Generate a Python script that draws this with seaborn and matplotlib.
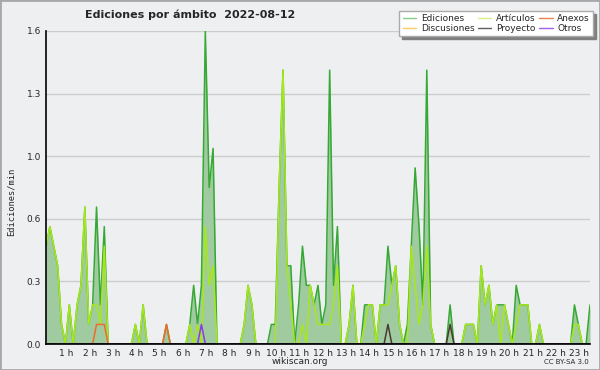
import matplotlib
matplotlib.use("Agg")
import matplotlib.pyplot as plt
import matplotlib.ticker as mticker
import matplotlib.transforms as mtransforms
from matplotlib.lines import Line2D
from matplotlib.patches import Rectangle
import numpy as np
import pandas as pd
import seaborn as sns

""" Data: edits per minute, one value per 10-minute bin (00:00 .. 23:20) """
title = "Ediciones por ámbito  2022-08-12"
bin_minutes = 10

# one row per hour (6 bins)
ediciones = [
    0.5, 0.6, 0.5, 0.4, 0.1, 0.0,
    0.2, 0.0, 0.2, 0.3, 0.7, 0.1,
    0.2, 0.7, 0.2, 0.6, 0.0, 0.0,
    0.0, 0.0, 0.0, 0.0, 0.0, 0.1,
    0.0, 0.2, 0.0, 0.0, 0.0, 0.0,
    0.0, 0.1, 0.0, 0.0, 0.0, 0.0,
    0.0, 0.1, 0.3, 0.1, 0.3, 1.6,
    0.8, 1.0, 0.0, 0.0, 0.0, 0.0,
    0.0, 0.0, 0.0, 0.1, 0.3, 0.2,
    0.0, 0.0, 0.0, 0.0, 0.1, 0.1,
    0.8, 1.4, 0.4, 0.4, 0.0, 0.2,
    0.5, 0.3, 0.3, 0.2, 0.3, 0.1,
    0.2, 1.4, 0.3, 0.6, 0.0, 0.0,
    0.1, 0.3, 0.0, 0.0, 0.2, 0.2,
    0.2, 0.0, 0.2, 0.2, 0.5, 0.3,
    0.4, 0.1, 0.0, 0.1, 0.5, 0.9,
    0.6, 0.2, 1.4, 0.1, 0.0, 0.0,
    0.0, 0.0, 0.2, 0.0, 0.0, 0.0,
    0.1, 0.1, 0.1, 0.0, 0.4, 0.2,
    0.3, 0.1, 0.2, 0.2, 0.2, 0.1,
    0.0, 0.3, 0.2, 0.2, 0.2, 0.0,
    0.0, 0.1, 0.0, 0.0, 0.0, 0.0,
    0.0, 0.0, 0.0, 0.0, 0.2, 0.1,
    0.0, 0.0, 0.2,
]
articulos = [
    0.5, 0.6, 0.5, 0.4, 0.1, 0.0,
    0.2, 0.0, 0.2, 0.3, 0.7, 0.1,
    0.2, 0.2, 0.1, 0.5, 0.0, 0.0,
    0.0, 0.0, 0.0, 0.0, 0.0, 0.1,
    0.0, 0.2, 0.0, 0.0, 0.0, 0.0,
    0.0, 0.0, 0.0, 0.0, 0.0, 0.0,
    0.0, 0.1, 0.0, 0.1, 0.0, 0.6,
    0.3, 0.4, 0.0, 0.0, 0.0, 0.0,
    0.0, 0.0, 0.0, 0.1, 0.3, 0.2,
    0.0, 0.0, 0.0, 0.0, 0.0, 0.0,
    0.8, 1.4, 0.4, 0.2, 0.0, 0.0,
    0.1, 0.0, 0.3, 0.2, 0.1, 0.1,
    0.1, 0.1, 0.2, 0.4, 0.0, 0.0,
    0.1, 0.3, 0.0, 0.0, 0.1, 0.2,
    0.2, 0.0, 0.2, 0.2, 0.2, 0.3,
    0.4, 0.1, 0.0, 0.0, 0.5, 0.3,
    0.1, 0.2, 0.5, 0.1, 0.0, 0.0,
    0.0, 0.0, 0.0, 0.0, 0.0, 0.0,
    0.1, 0.1, 0.1, 0.0, 0.4, 0.2,
    0.3, 0.1, 0.2, 0.0, 0.2, 0.1,
    0.0, 0.1, 0.2, 0.2, 0.2, 0.0,
    0.0, 0.1, 0.0, 0.0, 0.0, 0.0,
    0.0, 0.0, 0.0, 0.0, 0.1, 0.1,
    0.0, 0.0, 0.0,
]
discusiones = [
    0.0, 0.0, 0.0, 0.0, 0.0, 0.0,
    0.0, 0.0, 0.0, 0.0, 0.0, 0.0,
    0.0, 0.0, 0.0, 0.0, 0.0, 0.0,
    0.0, 0.0, 0.0, 0.0, 0.0, 0.0,
    0.0, 0.0, 0.0, 0.0, 0.0, 0.0,
    0.0, 0.0, 0.0, 0.0, 0.0, 0.0,
    0.0, 0.0, 0.0, 0.0, 0.0, 0.0,
    0.0, 0.0, 0.0, 0.0, 0.0, 0.0,
    0.0, 0.0, 0.0, 0.0, 0.0, 0.0,
    0.0, 0.0, 0.0, 0.0, 0.0, 0.0,
    0.0, 0.0, 0.0, 0.0, 0.0, 0.0,
    0.0, 0.0, 0.0, 0.0, 0.0, 0.0,
    0.0, 0.0, 0.0, 0.0, 0.0, 0.0,
    0.0, 0.0, 0.0, 0.0, 0.0, 0.0,
    0.0, 0.0, 0.0, 0.0, 0.0, 0.0,
    0.0, 0.0, 0.0, 0.0, 0.0, 0.0,
    0.0, 0.0, 0.0, 0.0, 0.0, 0.0,
    0.0, 0.0, 0.0, 0.0, 0.0, 0.0,
    0.0, 0.0, 0.0, 0.0, 0.0, 0.0,
    0.0, 0.0, 0.0, 0.0, 0.0, 0.0,
    0.0, 0.0, 0.0, 0.0, 0.0, 0.0,
    0.0, 0.0, 0.0, 0.0, 0.0, 0.0,
    0.0, 0.0, 0.0, 0.0, 0.0, 0.0,
    0.0, 0.0, 0.0,
]
proyecto = [
    0.0, 0.0, 0.0, 0.0, 0.0, 0.0,
    0.0, 0.0, 0.0, 0.0, 0.0, 0.0,
    0.0, 0.0, 0.0, 0.0, 0.0, 0.0,
    0.0, 0.0, 0.0, 0.0, 0.0, 0.0,
    0.0, 0.0, 0.0, 0.0, 0.0, 0.0,
    0.0, 0.0, 0.0, 0.0, 0.0, 0.0,
    0.0, 0.0, 0.0, 0.0, 0.0, 0.0,
    0.0, 0.0, 0.0, 0.0, 0.0, 0.0,
    0.0, 0.0, 0.0, 0.0, 0.0, 0.0,
    0.0, 0.0, 0.0, 0.0, 0.0, 0.0,
    0.0, 0.0, 0.0, 0.0, 0.0, 0.0,
    0.0, 0.0, 0.0, 0.0, 0.0, 0.0,
    0.0, 0.0, 0.0, 0.0, 0.0, 0.0,
    0.0, 0.0, 0.0, 0.0, 0.0, 0.0,
    0.0, 0.0, 0.0, 0.0, 0.1, 0.0,
    0.0, 0.0, 0.0, 0.0, 0.0, 0.0,
    0.0, 0.0, 0.0, 0.0, 0.0, 0.0,
    0.0, 0.0, 0.1, 0.0, 0.0, 0.0,
    0.0, 0.0, 0.0, 0.0, 0.0, 0.0,
    0.0, 0.0, 0.0, 0.0, 0.0, 0.0,
    0.0, 0.0, 0.0, 0.0, 0.0, 0.0,
    0.0, 0.0, 0.0, 0.0, 0.0, 0.0,
    0.0, 0.0, 0.0, 0.0, 0.0, 0.0,
    0.0, 0.0, 0.0,
]
anexos = [
    0.0, 0.0, 0.0, 0.0, 0.0, 0.0,
    0.0, 0.0, 0.0, 0.0, 0.0, 0.0,
    0.0, 0.1, 0.1, 0.1, 0.0, 0.0,
    0.0, 0.0, 0.0, 0.0, 0.0, 0.0,
    0.0, 0.0, 0.0, 0.0, 0.0, 0.0,
    0.0, 0.1, 0.0, 0.0, 0.0, 0.0,
    0.0, 0.0, 0.0, 0.0, 0.0, 0.0,
    0.0, 0.0, 0.0, 0.0, 0.0, 0.0,
    0.0, 0.0, 0.0, 0.0, 0.0, 0.0,
    0.0, 0.0, 0.0, 0.0, 0.0, 0.0,
    0.0, 0.0, 0.0, 0.0, 0.0, 0.0,
    0.0, 0.0, 0.0, 0.0, 0.0, 0.0,
    0.0, 0.0, 0.0, 0.0, 0.0, 0.0,
    0.0, 0.0, 0.0, 0.0, 0.0, 0.0,
    0.0, 0.0, 0.0, 0.0, 0.0, 0.0,
    0.0, 0.0, 0.0, 0.0, 0.0, 0.0,
    0.0, 0.0, 0.0, 0.0, 0.0, 0.0,
    0.0, 0.0, 0.0, 0.0, 0.0, 0.0,
    0.0, 0.0, 0.0, 0.0, 0.0, 0.0,
    0.0, 0.0, 0.0, 0.0, 0.0, 0.0,
    0.0, 0.0, 0.0, 0.0, 0.0, 0.0,
    0.0, 0.0, 0.0, 0.0, 0.0, 0.0,
    0.0, 0.0, 0.0, 0.0, 0.0, 0.0,
    0.0, 0.0, 0.0,
]
otros = [
    0.0, 0.0, 0.0, 0.0, 0.0, 0.0,
    0.0, 0.0, 0.0, 0.0, 0.0, 0.0,
    0.0, 0.0, 0.0, 0.0, 0.0, 0.0,
    0.0, 0.0, 0.0, 0.0, 0.0, 0.0,
    0.0, 0.0, 0.0, 0.0, 0.0, 0.0,
    0.0, 0.0, 0.0, 0.0, 0.0, 0.0,
    0.0, 0.0, 0.0, 0.0, 0.1, 0.0,
    0.0, 0.0, 0.0, 0.0, 0.0, 0.0,
    0.0, 0.0, 0.0, 0.0, 0.0, 0.0,
    0.0, 0.0, 0.0, 0.0, 0.0, 0.0,
    0.0, 0.0, 0.0, 0.0, 0.0, 0.0,
    0.0, 0.0, 0.0, 0.0, 0.0, 0.0,
    0.0, 0.0, 0.0, 0.0, 0.0, 0.0,
    0.0, 0.0, 0.0, 0.0, 0.0, 0.0,
    0.0, 0.0, 0.0, 0.0, 0.0, 0.0,
    0.0, 0.0, 0.0, 0.0, 0.0, 0.0,
    0.0, 0.0, 0.0, 0.0, 0.0, 0.0,
    0.0, 0.0, 0.0, 0.0, 0.0, 0.0,
    0.0, 0.0, 0.0, 0.0, 0.0, 0.0,
    0.0, 0.0, 0.0, 0.0, 0.0, 0.0,
    0.0, 0.0, 0.0, 0.0, 0.0, 0.0,
    0.0, 0.0, 0.0, 0.0, 0.0, 0.0,
    0.0, 0.0, 0.0, 0.0, 0.0, 0.0,
    0.0, 0.0, 0.0,
]

hour_ticks = list(range(1, 24))
hour_labels = [f"{h} h" for h in hour_ticks]
y_ticks = [0.0, 0.32, 0.64, 0.96, 1.28, 1.6]

""" Style """
bg = "#eeeff1"
colors = {
    "Ediciones": "#36a834",
    "Discusiones": "#f5c830",
    "Artículos": "#a6e81a",
    "Proyecto": "#4a3a30",
    "Anexos": "#f06a28",
    "Otros": "#8a3ae8",
}
legend_colors = {
    "Ediciones": "#88cc88",
    "Discusiones": "#f5d060",
    "Artículos": "#d8f080",
    "Proyecto": "#606060",
    "Anexos": "#f08050",
    "Otros": "#a060e8",
}
fill_color = "#a0cba0"

sns.set_style("white")
plt.rcParams["font.family"] = ["DejaVu Sans"]

series = {
    "Ediciones": ediciones,
    "Artículos": articulos,
    "Discusiones": discusiones,
    "Anexos": anexos,
    "Otros": otros,
    "Proyecto": proyecto,
}
frames = []
for name, values in series.items():
    hours = np.arange(len(values)) * bin_minutes / 60
    frames.append(pd.DataFrame({"hora": hours, "valor": values, "ambito": name}))
df = pd.concat(frames, ignore_index=True)

fig = plt.figure(figsize=(6, 3.7), dpi=100, facecolor=bg)
ax = fig.add_axes([46 / 600, 1 - 344 / 370, 544 / 600, 313 / 370])
ax.set_facecolor(bg)

tot = df[df["ambito"] == "Ediciones"]
ax.fill_between(tot["hora"], 0, tot["valor"], color=fill_color, lw=0, zorder=1)

sns.lineplot(
    data=df,
    x="hora",
    y="valor",
    hue="ambito",
    hue_order=list(series.keys()),
    palette=colors,
    estimator=None,
    legend=False,
    linewidth=1.1,
    ax=ax,
    zorder=2,
)

ax.set(xlim=(0, tot["hora"].max()), ylim=(0, 1.6), xlabel="", ylabel="")
ax.set_xticks(hour_ticks)
ax.set_xticklabels(hour_labels)
ax.xaxis.set_minor_locator(mticker.MultipleLocator(bin_minutes / 60))
ax.set_yticks(y_ticks)
ax.yaxis.set_major_formatter(mticker.FormatStrFormatter("%.1f"))
ax.yaxis.set_minor_locator(mticker.MultipleLocator(0.08))
ax.grid(axis="y", which="major", color="#cccccc", lw=1, zorder=0)
ax.set_axisbelow(True)
ax.tick_params(axis="both", which="both", direction="out", length=3, width=1,
               color="black", labelsize=6.5, pad=0.5)
for s in ["top", "right"]:
    ax.spines[s].set_visible(False)
for s in ["left", "bottom"]:
    ax.spines[s].set_color("black")
    ax.spines[s].set_linewidth(1.2)
    ax.spines[s].set_zorder(3)

shift = mtransforms.ScaledTranslation(-3 / 100, 0, fig.dpi_scale_trans)
for lab in ax.get_xticklabels():
    lab.set_transform(lab.get_transform() + shift)

fig.text(85 / 600, 1 - 15 / 370, title, fontsize=8, fontweight="bold", va="center", ha="left")
fig.text(11 / 600, 1 - 202 / 370, "Ediciones/min", rotation=90, fontsize=6.3,
         family="DejaVu Sans Mono", va="center", ha="center")
fig.text(0.5, 1 - 362 / 370, "wikiscan.org", fontsize=6.5, ha="center", va="center")
fig.text(589 / 600, 1 - 362 / 370, "CC BY-SA 3.0", fontsize=5, ha="right", va="center")

legend_order = ["Ediciones", "Discusiones", "Artículos", "Proyecto", "Anexos", "Otros"]
handles = [Line2D([0], [0], color=legend_colors[n], lw=1) for n in legend_order]
leg = fig.legend(
    handles, legend_order, ncol=3, loc="upper right",
    bbox_to_anchor=(593 / 600, 1 - 11 / 370), frameon=True, fancybox=False,
    shadow={"color": "#808080", "alpha": 1}, fontsize=6.5, handlelength=1.5,
    handletextpad=0.5, columnspacing=0.4, labelspacing=0.1, borderpad=0.35,
    borderaxespad=0,
)
leg.get_frame().set_edgecolor("#aaaaaa")
leg.get_frame().set_facecolor("white")
leg.get_frame().set_linewidth(1)

fig.patches.append(Rectangle((0, 0), 1, 1, transform=fig.transFigure, fill=False,
                             edgecolor="#a8a8a8", lw=2))

fig.savefig("out.png", dpi=100, facecolor=bg)
